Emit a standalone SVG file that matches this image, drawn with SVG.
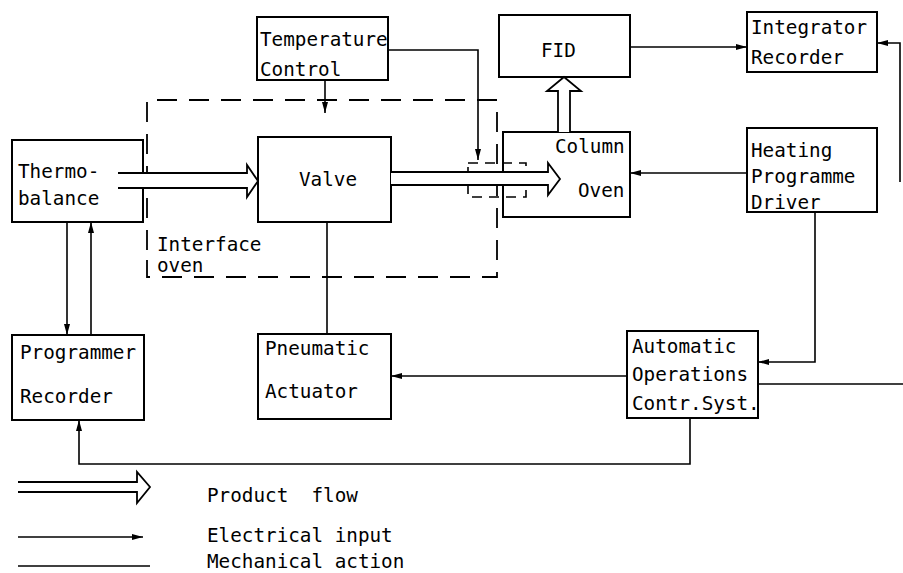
<svg xmlns="http://www.w3.org/2000/svg" width="903" height="573" viewBox="0 0 903 573">
<style>
.box{fill:#fff;stroke:#000;stroke-width:2}
.t{font-family:"DejaVu Sans Mono","Liberation Mono",monospace;font-size:19.3px;fill:#000}
.w{fill:none;stroke:#000;stroke-width:1.6}
.e{fill:none;stroke:#000;stroke-width:1.6;marker-end:url(#ah)}
.pf{fill:#fff;stroke:#000;stroke-width:1.8;stroke-linejoin:miter}
.dash{fill:none;stroke:#000;stroke-width:1.8;stroke-dasharray:20 12}
.dash2{fill:none;stroke:#000;stroke-width:1.6;stroke-dasharray:10 7}
</style>
<defs>
<marker id="ah" markerUnits="userSpaceOnUse" markerWidth="11" markerHeight="8" refX="11" refY="4" orient="auto">
<path d="M0,1 L11,4 L0,7 z" fill="#000"/>
</marker>
</defs>
<rect width="903" height="573" fill="#fff"/>

<g id="interface-oven">
<path class="dash" d="M147,250 V100 H497 V277 H147 V258"/>
<text class="t" x="157" y="251">Interface</text>
<text class="t" x="157" y="272">oven</text>
</g>

<g id="thermobalance">
<rect class="box" x="12" y="140" width="131" height="82"/>
<text class="t" x="18" y="178">Thermo-</text>
<text class="t" x="18" y="205">balance</text>
</g>

<g id="temperature-control">
<rect class="box" x="257" y="17" width="131" height="63"/>
<text class="t" x="260" y="46">Temperature</text>
<text class="t" x="260" y="76">Control</text>
</g>

<g id="valve">
<rect class="box" x="258" y="137" width="133" height="85"/>
<text class="t" x="299" y="186">Valve</text>
</g>

<g id="fid">
<rect class="box" x="499" y="15" width="131" height="62"/>
<text class="t" x="541" y="57">FID</text>
</g>

<g id="column-oven">
<rect class="box" x="503" y="132" width="127" height="85"/>
<text class="t" x="555" y="153">Column</text>
<text class="t" x="578" y="197">Oven</text>
</g>

<g id="integrator-recorder">
<rect class="box" x="747" y="12" width="130" height="60"/>
<text class="t" x="751" y="34">Integrator</text>
<text class="t" x="751" y="64">Recorder</text>
</g>

<g id="heating-programme-driver">
<rect class="box" x="747" y="128" width="130" height="84"/>
<text class="t" x="751" y="157">Heating</text>
<text class="t" x="751" y="183">Programme</text>
<text class="t" x="751" y="209">Driver</text>
</g>

<g id="programmer-recorder">
<rect class="box" x="12" y="335" width="132" height="85"/>
<text class="t" x="20" y="359">Programmer</text>
<text class="t" x="20" y="403">Recorder</text>
</g>

<g id="pneumatic-actuator">
<rect class="box" x="258" y="334" width="133" height="85"/>
<text class="t" x="265" y="355">Pneumatic</text>
<text class="t" x="265" y="398">Actuator</text>
</g>

<g id="automatic-operations">
<rect class="box" x="627" y="331" width="131" height="87"/>
<text class="t" x="632" y="353">Automatic</text>
<text class="t" x="632" y="381">Operations</text>
<text class="t" x="632" y="410">Contr.Syst.</text>
</g>

<g id="connectors">
<path class="e" d="M325,80 V113"/>
<path class="e" d="M388,50 H478 V160"/>
<path class="dash2" d="M468,163 H526 V197 H468 Z"/>
<path class="e" d="M630,47 H747"/>
<path class="e" d="M900,182 V43 H877"/>
<path class="e" d="M747,173 H630"/>
<path class="e" d="M815,212 V362 H758"/>
<path class="e" d="M627,376 H391"/>
<path class="w" d="M758,384 H903"/>
<path class="e" d="M690,418 V464 H79 V420"/>
<path class="e" d="M67,222 V335"/>
<path class="e" d="M91,335 V222"/>
<path class="w" d="M327,222 V334"/>
<path class="pf" d="M118,173 H247 V165 L258,181 L247,197 V188 H118"/>
<path class="pf" d="M391,172 H548 V163 L560,179 L548,195 V185 H391"/>
<path class="pf" d="M558,132 V91 H547 L564,77 L581,91 H570 V132"/>
</g>

<g id="legend">
<path class="pf" d="M18,482 H137 V472 L150,487 L137,503 V492 H18"/>
<text class="t" x="207" y="502" xml:space="preserve">Product  flow</text>
<path class="e" d="M18,537 H143"/>
<text class="t" x="207" y="542">Electrical input</text>
<path class="w" d="M18,566 H150"/>
<text class="t" x="207" y="568">Mechanical action</text>
</g>
</svg>
